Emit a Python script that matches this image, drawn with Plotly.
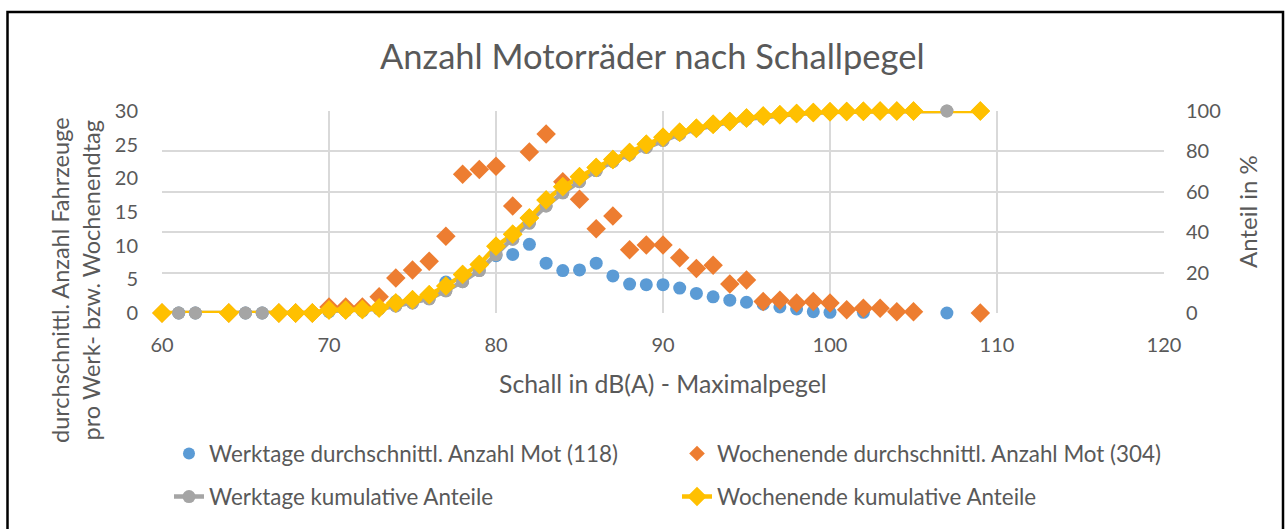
import plotly.graph_objects as go

# ---- data ----
wd_x = [61, 62, 65, 66, 67, 68, 69, 70, 71, 72, 73, 74, 75, 76, 77, 78, 79, 80,
        81, 82, 83, 84, 85, 86, 87, 88, 89, 90, 91, 92, 93, 94, 95, 96, 97, 98,
        99, 100, 102, 107]
wd_avg = [0, 0, 0, 0, 0, 0, 0, 0.2, 0.3, 0.3, 0.6, 1.7, 1.8, 2.6, 4.6, 5.5, 7.0, 8.5,
          8.7, 10.2, 7.4, 6.3, 6.4, 7.4, 5.5, 4.3, 4.2, 4.2, 3.7, 2.9, 2.4, 1.9, 1.6, 1.3, 0.9, 0.6,
          0.2, 0.1, 0.1, 0]
wd_cum = [0, 0, 0, 0, 0, 0, 0, 1.0, 1.2, 1.4, 2.0, 3.5, 5.0, 7.0, 11.0, 15.5, 21.0, 29.0,
          36.5, 44.5, 53.0, 59.5, 65.0, 70.5, 75.0, 78.5, 82.0, 85.5, 88.5, 91.0, 93.0, 94.5, 96.0, 97.0, 98.0, 98.5,
          99.0, 99.5, 99.7, 100]

we_x = [60, 64, 67, 68, 69, 70, 71, 72, 73, 74, 75, 76, 77, 78, 79, 80, 81, 82,
        83, 84, 85, 86, 87, 88, 89, 90, 91, 92, 93, 94, 95, 96, 97, 98, 99, 100,
        101, 102, 103, 104, 105, 109]
we_avg = [0, 0, 0, 0, 0, 0.9, 0.9, 0.9, 2.4, 5.2, 6.4, 7.7, 11.4, 20.6, 21.3, 21.8, 15.9, 23.9,
          26.6, 19.5, 16.9, 12.5, 14.4, 9.4, 10.1, 10.1, 8.2, 6.6, 7.1, 4.3, 4.9, 1.7, 1.9, 1.5, 1.7, 1.5,
          0.5, 0.7, 0.7, 0.2, 0.2, 0]
we_cum = [0, 0, 0, 0, 0, 1.5, 1.5, 1.7, 2.5, 5.0, 6.5, 9.0, 13.4, 19.0, 24.0, 33.0, 39.0, 47.0,
          56.0, 62.5, 67.5, 72.0, 76.0, 79.5, 83.5, 87.0, 89.5, 91.5, 93.5, 94.8, 96.5, 97.5, 98.2, 98.8, 99.3, 99.6,
          99.8, 99.9, 100, 100, 100, 100]

x_ticks = [60, 70, 80, 90, 100, 110, 120]
y1_ticks = [0, 5, 10, 15, 20, 25, 30]
y2_ticks = [0, 20, 40, 60, 80, 100]

names = ["Werktage durchschnittl. Anzahl Mot (118)",
         "Wochenende durchschnittl. Anzahl Mot (304)",
         "Werktage kumulative Anteile",
         "Wochenende kumulative Anteile"]

BLUE, ORANGE, GRAY, YELLOW = "#5B9BD5", "#ED7D31", "#A5A5A5", "#FFC000"
TXT = "#595959"
GRID = "#D9D9D9"
FONT = "Lato"

W, H = 1286, 529
PL, PT, PW, PH = 162, 111, 1002, 202   # plot area in screenshot pixels
L, T = PL, PT
R, B = W - L - PW, H - T - PH

def px2x(p):
    return (p - PL) / PW

def py2y(p):
    return (PT + PH - p) / PH

fig = go.Figure()
fig.add_trace(go.Scatter(x=wd_x, y=wd_avg, mode="markers", name=names[0],
                         marker=dict(symbol="circle", size=13, color=BLUE),
                         cliponaxis=False, legend="legend"))
fig.add_trace(go.Scatter(x=we_x, y=we_avg, mode="markers", name=names[1],
                         marker=dict(symbol="diamond", size=15, color=ORANGE),
                         cliponaxis=False, legend="legend2"))
fig.add_trace(go.Scatter(x=wd_x, y=wd_cum, mode="lines+markers", name=names[2], yaxis="y2",
                         line=dict(color=GRAY, width=4.5),
                         marker=dict(symbol="circle", size=13, color=GRAY),
                         cliponaxis=False, legend="legend3"))
fig.add_trace(go.Scatter(x=we_x, y=we_cum, mode="lines+markers", name=names[3], yaxis="y2",
                         line=dict(color=YELLOW, width=4.5),
                         marker=dict(symbol="diamond", size=15, color=YELLOW),
                         cliponaxis=False, legend="legend4"))
# markers redrawn above both lines
fig.add_trace(go.Scatter(x=wd_x, y=wd_cum, mode="markers", yaxis="y2", showlegend=False,
                         marker=dict(symbol="circle", size=13, color=GRAY),
                         cliponaxis=False, hoverinfo="skip"))
fig.add_trace(go.Scatter(x=we_x, y=we_cum, mode="markers", yaxis="y2", showlegend=False,
                         marker=dict(symbol="diamond", size=15, color=YELLOW),
                         cliponaxis=False, hoverinfo="skip"))

LEG_FONT = dict(size=22.4, color=TXT, family=FONT)

def leg(xp, yp, sizing="trace"):
    return dict(orientation="h", x=px2x(xp), y=py2y(yp), xanchor="left", yanchor="middle",
                font=LEG_FONT, itemsizing=sizing, bgcolor="rgba(0,0,0,0)",
                itemclick=False, itemdoubleclick=False)

fig.update_layout(
    width=W, height=H,
    margin=dict(l=L, r=R, t=T, b=B, pad=0, autoexpand=False),
    paper_bgcolor="white", plot_bgcolor="white",
    font=dict(family=FONT, color=TXT, size=20),
    showlegend=True,
    hovermode=False,
    xaxis=dict(range=[60, 120], tickvals=x_ticks, showgrid=True, gridcolor=GRID, gridwidth=1.5,
               zeroline=False, showline=False, ticks="outside", ticklen=14,
               tickcolor="rgba(0,0,0,0)", tickfont=dict(size=20, color=TXT)),
    yaxis=dict(range=[0, 30], tickvals=y1_ticks, showgrid=False, zeroline=False, showline=False,
               ticks="outside", ticklen=19, tickcolor="rgba(0,0,0,0)",
               tickfont=dict(size=20, color=TXT)),
    yaxis2=dict(range=[0, 100], tickvals=y2_ticks, overlaying="y", side="right",
                showgrid=True, gridcolor=GRID, gridwidth=1.5, zeroline=False, showline=False,
                ticks="outside", ticklen=17, tickcolor="rgba(0,0,0,0)",
                tickfont=dict(size=20, color=TXT)),
    legend=leg(169, 454, "constant"),
    legend2=leg(677, 454, "constant"),
    legend3=leg(169, 497),
    legend4=leg(677, 497),
)

fig.add_annotation(text="Anzahl Motorräder nach Schallpegel", xref="paper", yref="paper",
                   x=px2x(652), y=py2y(56), showarrow=False, xanchor="center", yanchor="middle",
                   font=dict(size=34.5, color=TXT, family=FONT))
fig.add_annotation(text="Schall in dB(A) - Maximalpegel", xref="paper", yref="paper",
                   x=px2x(663), y=py2y(383), showarrow=False, xanchor="center", yanchor="middle",
                   font=dict(size=24.8, color=TXT, family=FONT))
fig.add_annotation(text="durchschnittl. Anzahl Fahrzeuge<br>pro Werk- bzw. Wochenendtag",
                   xref="paper", yref="paper", x=px2x(75), y=py2y(280), showarrow=False,
                   xanchor="center", yanchor="middle", textangle=-90,
                   font=dict(size=23.5, color=TXT, family=FONT))
fig.add_annotation(text="Anteil in %", xref="paper", yref="paper", x=px2x(1247), y=py2y(212),
                   showarrow=False, xanchor="center", yanchor="middle", textangle=-90,
                   font=dict(size=24, color=TXT, family=FONT))

# chart frame
fig.add_shape(type="rect", xref="paper", yref="paper",
              x0=px2x(7.5), x1=px2x(1283), y0=py2y(531), y1=py2y(12),
              line=dict(color="black", width=2.5), fillcolor="rgba(0,0,0,0)", layer="below")

fig.write_html("out.html",
               config={"displayModeBar": False},
               post_script="document.body.style.margin='0';"
                           "document.documentElement.style.overflow='hidden';"
                           "document.body.style.overflow='hidden';")
